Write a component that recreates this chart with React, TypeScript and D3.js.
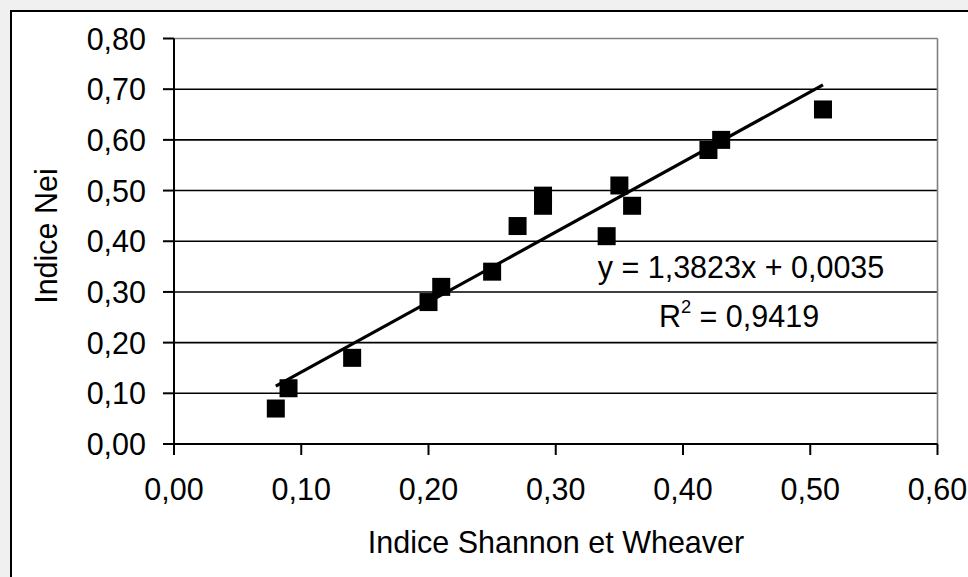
import React from "react";
import * as d3 from "d3";

const shannon = [0.08, 0.09, 0.14, 0.2, 0.21, 0.25, 0.27, 0.29, 0.29, 0.34, 0.35, 0.36, 0.42, 0.43, 0.51];
const nei = [0.07, 0.11, 0.17, 0.28, 0.31, 0.34, 0.43, 0.49, 0.47, 0.41, 0.51, 0.47, 0.58, 0.6, 0.66];
const xTicks = [0, 0.1, 0.2, 0.3, 0.4, 0.5, 0.6];
const yTicks = [0, 0.1, 0.2, 0.3, 0.4, 0.5, 0.6, 0.7, 0.8];
const slope = 1.3823;
const intercept = 0.0035;
const equationText = "y = 1,3823x + 0,0035";
const r2Value = "0,9419";
const xTitle = "Indice Shannon et Wheaver";
const yTitle = "Indice Nei";

const W = 968;
const H = 577;
const L = 174;
const R = 937.5;
const T = 38.5;
const B = 444;
const FONT = "Arial, 'Liberation Sans', sans-serif";
const FS = 30.5;

export default function App() {
  const x = d3.scaleLinear().domain([0, 0.6]).range([L, R]);
  const y = d3.scaleLinear().domain([0, 0.8]).range([B, T]);
  const fmt = (v: number) => v.toFixed(2).replace(".", ",");
  const xMin = d3.min(shannon) as number;
  const xMax = d3.max(shannon) as number;
  const line = d3.line<number>().x((d) => x(d)).y((d) => y(slope * d + intercept));
  const ms = 18;

  return (
    <svg
      width={W}
      height={H}
      style={{ position: "absolute", left: 0, top: 0, background: "#f0f0f0" }}
      fontFamily={FONT}
    >
      <rect x={11} y={11} width={W + 20} height={H + 20} fill="#ffffff" stroke="#000" strokeWidth={2} />
      {yTicks.slice(1).map((t) => (
        <line key={"g" + t} x1={L} x2={R} y1={y(t)} y2={y(t)} stroke={t === 0.8 ? "#808080" : "#000"} strokeWidth={1.6} />
      ))}
      <line x1={R} x2={R} y1={T} y2={B} stroke="#808080" strokeWidth={1.6} />
      <line x1={L} x2={L} y1={T} y2={B + 11} stroke="#000" strokeWidth={2} />
      <line x1={L - 11} x2={R} y1={B} y2={B} stroke="#000" strokeWidth={2} />
      {yTicks.map((t) => (
        <g key={"y" + t}>
          <line x1={L - 11} x2={L} y1={y(t)} y2={y(t)} stroke="#000" strokeWidth={2} />
          <text x={146} y={y(t) + 11} textAnchor="end" fontSize={FS} fill="#000">
            {fmt(t)}
          </text>
        </g>
      ))}
      {xTicks.map((t) => (
        <g key={"x" + t}>
          <line x1={x(t)} x2={x(t)} y1={B} y2={B + 11} stroke="#000" strokeWidth={2} />
          <text x={x(t)} y={500} textAnchor="middle" fontSize={FS} fill="#000">
            {fmt(t)}
          </text>
        </g>
      ))}
      <path d={line([xMin, xMax]) || ""} stroke="#000" strokeWidth={3.2} fill="none" />
      {shannon.map((sx, i) => (
        <rect key={"m" + i} x={x(sx) - ms / 2} y={y(nei[i]) - ms / 2} width={ms} height={ms} fill="#000" />
      ))}
      <text x={741} y={278} textAnchor="middle" fontSize={FS} fill="#000">
        {equationText}
      </text>
      <text x={739} y={327} textAnchor="middle" fontSize={FS} fill="#000">
        R<tspan fontSize={FS * 0.6} dy={-14}>2</tspan>
        <tspan dy={14}>{" = " + r2Value}</tspan>
      </text>
      <text x={556} y={553} textAnchor="middle" fontSize={FS} fill="#000">
        {xTitle}
      </text>
      <text transform={`translate(57,236) rotate(-90)`} textAnchor="middle" fontSize={FS} fill="#000">
        {yTitle}
      </text>
    </svg>
  );
}
